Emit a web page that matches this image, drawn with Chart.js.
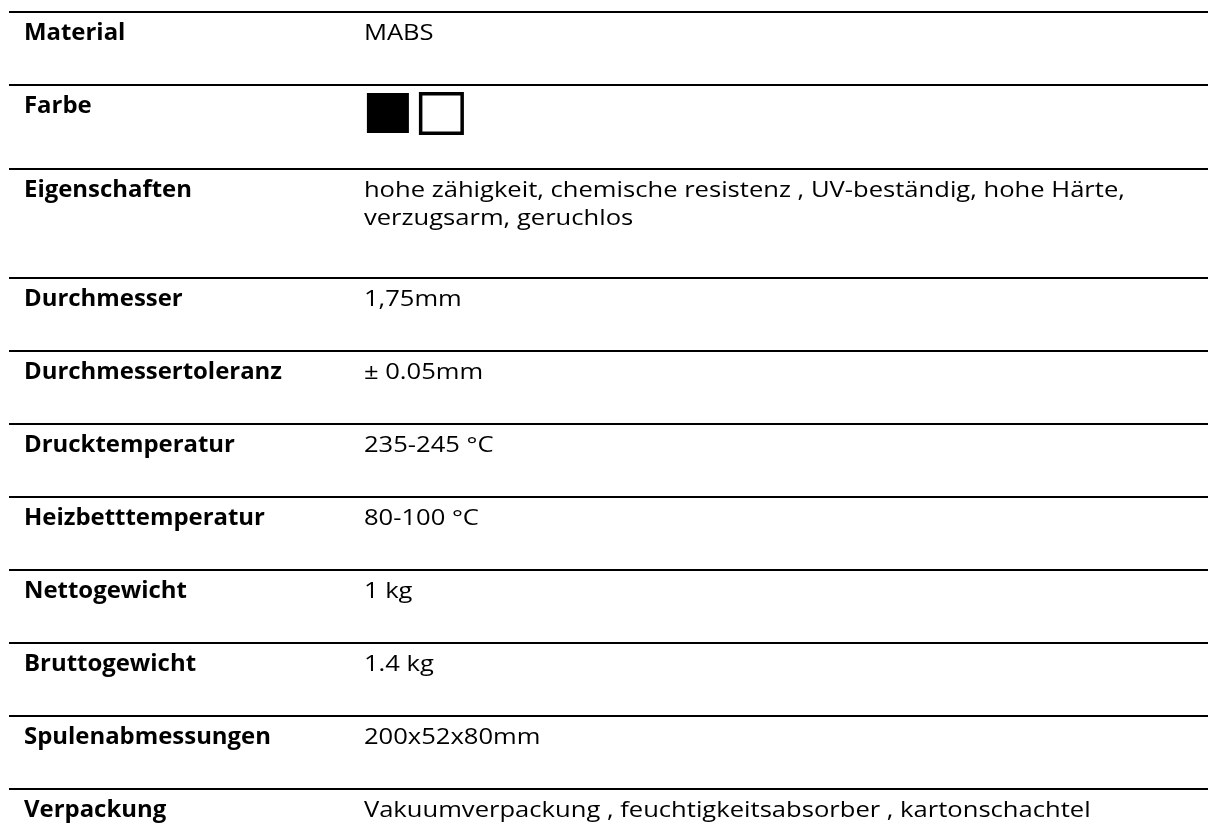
<!DOCTYPE html>
<html>
<head>
<meta charset="utf-8">
<script src="https://cdn.jsdelivr.net/npm/chart.js@4"></script>
<style>
  html, body { margin: 0; padding: 0; background: #fff; }
  #wrap { width: 1208px; height: 823px; position: relative; }
</style>
</head>
<body>
<div id="wrap"><canvas id="chartSpecs"></canvas></div>
<script>
// datos de la tabla
const rowLabels = [
  'Material',
  'Farbe',
  'Eigenschaften',
  'Durchmesser',
  'Durchmessertoleranz',
  'Drucktemperatur',
  'Heizbetttemperatur',
  'Nettogewicht',
  'Bruttogewicht',
  'Spulenabmessungen',
  'Verpackung'
];
const rowValues = [
  ['MABS'],
  [],
  ['hohe zähigkeit, chemische resistenz , UV-beständig, hohe Härte,', 'verzugsarm, geruchlos'],
  ['1,75mm'],
  ['± 0.05mm'],
  ['235-245 °C'],
  ['80-100 °C'],
  ['1 kg'],
  ['1.4 kg'],
  ['200x52x80mm'],
  ['Vakuumverpackung , feuchtigkeitsabsorber , kartonschachtel']
];
const farbeSwatches = ['#000000', '#ffffff'];
const swatchRow = 1;

// layout
const baseRow = 73, lineStep = 28, swatchRowH = 84, baselineOff = 28;
function rowHeight(i) {
  if (i === swatchRow) return swatchRowH;
  return baseRow + (Math.max(rowValues[i].length, 1) - 1) * 36;
}
const bounds = [0];
rowLabels.forEach((_, i) => bounds.push(bounds[i] + rowHeight(i)));

const labelCol = 1.25, valueCol = 29.6;
const fontPx = 22.5;
const family = '"Open Sans"';

// ajusta el ancho para parecerse a Calibri
function squeeze(ctx, font, text, target) {
  ctx.font = font;
  return target / ctx.measureText(text).width;
}

function drawText(ctx, text, x, y, sx) {
  ctx.save();
  ctx.translate(x, y);
  ctx.scale(sx, 1);
  ctx.fillText(text, 0, 0);
  ctx.restore();
}

const tablePlugin = {
  id: 'tableText',
  afterDraw(chart) {
    const ctx = chart.ctx;
    const x = chart.scales.x, y = chart.scales.y;
    const regFont = fontPx + 'px ' + family;
    const boldFont = 'bold ' + fontPx + 'px ' + family;
    const sxReg = squeeze(ctx, regFont, rowValues[2][0], 761);
    const sxBold = squeeze(ctx, boldFont, 'Durchmessertoleranz', 258);
    ctx.save();
    ctx.fillStyle = '#000';
    ctx.textBaseline = 'alphabetic';
    ctx.textAlign = 'left';
    rowLabels.forEach((lab, i) => {
      const yb = y.getPixelForValue(bounds[i] + baselineOff);
      ctx.font = boldFont;
      drawText(ctx, lab, x.getPixelForValue(labelCol), yb, sxBold);
      ctx.font = regFont;
      rowValues[i].forEach((t, k) => {
        drawText(ctx, t, x.getPixelForValue(valueCol), y.getPixelForValue(bounds[i] + baselineOff + k * lineStep), sxReg);
      });
    });
    // Farbe
    const top = y.getPixelForValue(bounds[swatchRow]);
    const vx = x.getPixelForValue(valueCol);
    farbeSwatches.forEach((c, k) => {
      if (k === 0) {
        ctx.fillStyle = c;
        ctx.fillRect(vx + 3, top + 8, 42, 40);
      } else {
        ctx.fillStyle = c;
        ctx.fillRect(vx + 55, top + 7, 45, 43);
        ctx.strokeStyle = '#000';
        ctx.lineWidth = 3.5;
        ctx.strokeRect(vx + 55 + 1.75, top + 7 + 1.75, 45 - 3.5, 43 - 3.5);
      }
    });
    ctx.restore();
  }
};

const config = {
  type: 'scatter',
  data: { datasets: [] },
  options: {
    responsive: true,
    maintainAspectRatio: false,
    animation: false,
    layout: { padding: { top: 12, left: 9, right: 0, bottom: 0 } },
    plugins: {
      legend: { display: false },
      tooltip: { enabled: false },
      title: { display: false }
    },
    scales: {
      x: { type: 'linear', min: 0, max: 100, display: false },
      y: {
        type: 'linear',
        min: 0,
        max: 811,
        reverse: true,
        afterBuildTicks: (scale) => {
          scale.ticks = bounds.filter(v => v <= 811).map(v => ({ value: v }));
        },
        ticks: { display: false },
        border: { display: false },
        grid: { color: '#000', lineWidth: 2, drawTicks: false }
      }
    }
  },
  plugins: [tablePlugin]
};

const node = document.getElementById('chartSpecs');
var chartSpecs = new Chart(node, config);
</script>
</body>
</html>
